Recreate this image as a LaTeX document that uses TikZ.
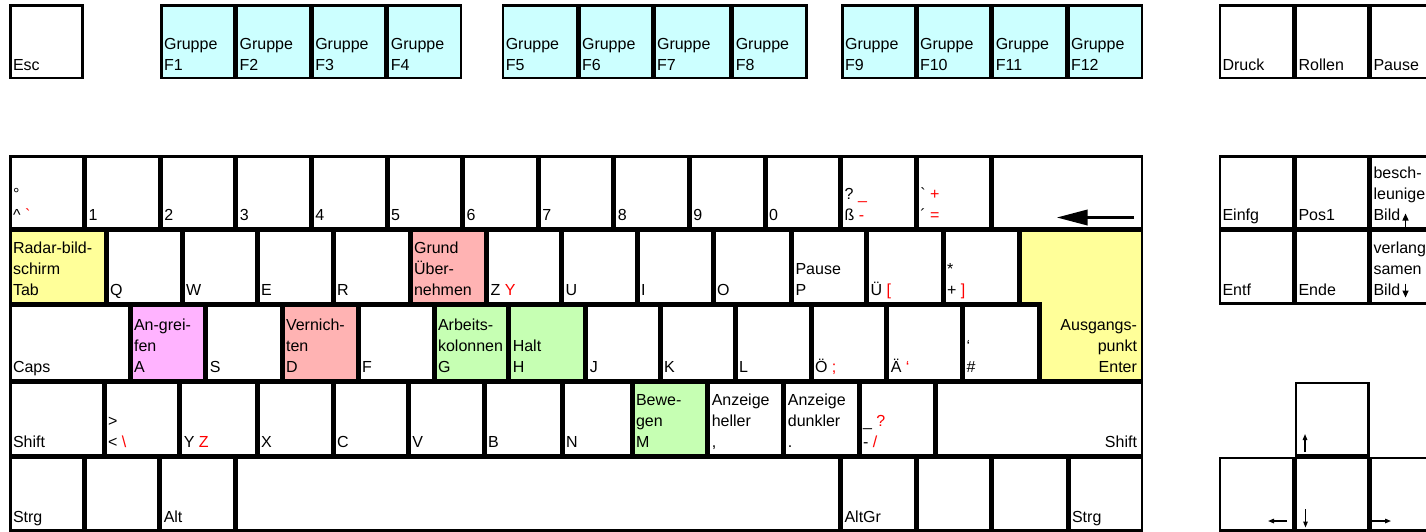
\documentclass[tikz,border=0pt]{standalone}
\usepackage{fontspec}
\setmainfont{Liberation Sans}
\usetikzlibrary{arrows.meta}
\definecolor{kcyan}{RGB}{204,255,255}
\definecolor{kyellow}{RGB}{255,255,153}
\definecolor{ksalmon}{RGB}{255,179,179}
\definecolor{kpink}{RGB}{255,179,255}
\definecolor{kgreen}{RGB}{198,255,179}
\newcommand\RD[1]{\textcolor{red}{#1}}
\newcommand\KB[6]{\node[keybox,#6,minimum width={#3pt-#2pt-2.5pt},minimum height={#5pt-#4pt-2.5pt}] (#1) at ({(#2+#3)/2},{(#4+#5)/2}) {};}
\newcommand\KL[2]{\node[lab,anchor=south west] (#1l) at ([xshift=2.8pt,yshift=1.5pt]#1.south west) {#2\strut};}
\newcommand\KR[2]{\node[lab,anchor=south east,align=right] (#1l) at ([xshift=-4.8pt,yshift=1.5pt]#1.south east) {#2\strut};}
\tikzset{
  keybox/.style={draw=black,line width=2.5pt,rectangle,inner sep=0pt,outer sep=0pt,fill=white},
  cy/.style={fill=kcyan}, ye/.style={fill=kyellow}, sa/.style={fill=ksalmon},
  pk/.style={fill=kpink}, gr/.style={fill=kgreen},
  lab/.style={inner sep=0pt,outer sep=0pt,align=left,font=\fontsize{16}{20.8}\selectfont},
  smallarrow/.style={line width=1.3pt,-{Triangle[length=6pt,width=4.5pt]}},
  bildarrow/.style={line width=1.4pt,-{Triangle[length=7pt,width=6pt]}}
}
\begin{document}
\begin{tikzpicture}[x=1pt,y=-1pt]
\useasboundingbox (0,0) rectangle (1426,531);
\clip (0,0) rectangle (1426,531);
\fill[white] (0,0) rectangle (1426,531);
% ---- top row
\KB{esc}{9}{83.5}{4}{79}{}\KL{esc}{Esc}
\KB{f1}{160}{235.6}{4}{79}{cy}\KL{f1}{Gruppe\\F1}
\KB{f2}{235.6}{311.2}{4}{79}{cy}\KL{f2}{Gruppe\\F2}
\KB{f3}{311.2}{386.8}{4}{79}{cy}\KL{f3}{Gruppe\\F3}
\KB{f4}{386.8}{462.4}{4}{79}{cy}\KL{f4}{Gruppe\\F4}
\KB{f5}{501.7}{578}{4}{79}{cy}\KL{f5}{Gruppe\\F5}
\KB{f6}{578}{653}{4}{79}{cy}\KL{f6}{Gruppe\\F6}
\KB{f7}{653}{731.7}{4}{79}{cy}\KL{f7}{Gruppe\\F7}
\KB{f8}{731.7}{807.7}{4}{79}{cy}\KL{f8}{Gruppe\\F8}
\KB{f9}{841}{916}{4}{79}{cy}\KL{f9}{Gruppe\\F9}
\KB{f10}{916}{991.7}{4}{79}{cy}\KL{f10}{Gruppe\\F10}
\KB{f11}{991.7}{1067}{4}{79}{cy}\KL{f11}{Gruppe\\F11}
\KB{f12}{1067}{1143}{4}{79}{cy}\KL{f12}{Gruppe\\F12}
\KB{druck}{1218.5}{1294.5}{4}{79}{}\KL{druck}{Druck}
\KB{rollen}{1294.5}{1369.5}{4}{79}{}\KL{rollen}{Rollen}
\KB{pause}{1369.5}{1445}{4}{79}{}\KL{pause}{Pause}
% ---- number row
\KB{circ}{9}{84.6}{155}{229.5}{}\KL{circ}{°\\\textasciicircum\ \RD{\textasciigrave}}
\KB{n1}{84.6}{160.2}{155}{229.5}{}\KL{n1}{1}
\KB{n2}{160.2}{235.8}{155}{229.5}{}\KL{n2}{2}
\KB{n3}{235.8}{311.4}{155}{229.5}{}\KL{n3}{3}
\KB{n4}{311.4}{387}{155}{229.5}{}\KL{n4}{4}
\KB{n5}{387}{462.6}{155}{229.5}{}\KL{n5}{5}
\KB{n6}{462.6}{538.2}{155}{229.5}{}\KL{n6}{6}
\KB{n7}{538.2}{613.8}{155}{229.5}{}\KL{n7}{7}
\KB{n8}{613.8}{689.4}{155}{229.5}{}\KL{n8}{8}
\KB{n9}{689.4}{765}{155}{229.5}{}\KL{n9}{9}
\KB{n0}{765}{840.6}{155}{229.5}{}\KL{n0}{0}
\KB{sz}{840.6}{916.2}{155}{229.5}{}\KL{sz}{?\ \RD{\_}\\ß \RD{-}}
\KB{acute}{916.2}{991.8}{155}{229.5}{}\KL{acute}{\textasciigrave\ \RD{+}\\´ \RD{=}}
\KB{bksp}{991.8}{1143}{155}{229.5}{}
\coordinate (bsA) at (1134,217.5);
\coordinate (bsB) at (1056.5,217.5);
\draw[line width=3.5pt,-{Triangle[length=31pt,width=15pt]}] (bsA) -- (bsB);
% ---- Q row
\KB{tab}{9}{106}{229.5}{304.5}{ye}\KL{tab}{Radar-bild-\\schirm\\Tab}
\KB{q}{106}{182}{229.5}{304.5}{}\KL{q}{Q}
\KB{w}{182}{257}{229.5}{304.5}{}\KL{w}{W}
\KB{e}{257}{333}{229.5}{304.5}{}\KL{e}{E}
\KB{r}{333}{410}{229.5}{304.5}{}\KL{r}{R}
\KB{t}{410}{486.5}{229.5}{304.5}{sa}\KL{t}{Grund\\Über-\\nehmen}
\KB{z}{486.5}{561.5}{229.5}{304.5}{}\KL{z}{Z \RD{Y}}
\KB{u}{561.5}{637}{229.5}{304.5}{}\KL{u}{U}
\KB{i}{637}{713}{229.5}{304.5}{}\KL{i}{I}
\KB{o}{713}{791.5}{229.5}{304.5}{}\KL{o}{O}
\KB{p}{791.5}{866.5}{229.5}{304.5}{}\KL{p}{Pause\\P}
\KB{ue}{866.5}{943}{229.5}{304.5}{}\KL{ue}{Ü \RD{[}}
\KB{plus}{943}{1019}{229.5}{304.5}{}\KL{plus}{*\\+ \RD{]}}
% Enter
\coordinate (enterSE) at (1141.75,379.75);
\filldraw[draw=black,line width=2.5pt,fill=kyellow] (1020.25,230.75) -- (1141.75,230.75) -- (enterSE) -- (1040.25,379.75) -- (1040.25,303.25) -- (1020.25,303.25) -- cycle;
\node[lab,anchor=south east,align=right] (enterl) at ([xshift=-4.8pt,yshift=1.5pt]enterSE) {Ausgangs-\\punkt\\Enter\strut};
% ---- A row
\KB{caps}{9}{130}{304.5}{381}{}\KL{caps}{Caps}
\KB{a}{130}{205.7}{304.5}{381}{pk}\KL{a}{An-grei-\\fen\\A}
\KB{s}{205.7}{282}{304.5}{381}{}\KL{s}{S}
\KB{d}{282}{358}{304.5}{381}{sa}\KL{d}{Vernich-\\ten\\D}
\KB{f}{358}{434}{304.5}{381}{}\KL{f}{F}
\KB{g}{434}{508.7}{304.5}{381}{gr}\KL{g}{Arbeits-\\kolonnen\\G}
\KB{h}{508.7}{585.7}{304.5}{381}{gr}\KL{h}{Halt\\H}
\KB{j}{585.7}{660}{304.5}{381}{}\KL{j}{J}
\KB{k}{660}{735}{304.5}{381}{}\KL{k}{K}
\KB{l}{735}{811}{304.5}{381}{}\KL{l}{L}
\KB{oe}{811}{886.7}{304.5}{381}{}\KL{oe}{Ö \RD{;}}
\KB{ae}{886.7}{962.5}{304.5}{381}{}\KL{ae}{Ä \RD{‘}}
\KB{hash}{962.5}{1039}{304.5}{381}{}\KL{hash}{‘\\\#}
% ---- Shift row
\KB{lshift}{9}{104}{381}{456.5}{}\KL{lshift}{Shift}
\KB{lt}{104}{179.7}{381}{456.5}{}\KL{lt}{>\\< \RD{\textbackslash}}
\KB{y}{179.7}{257}{381}{456.5}{}\KL{y}{Y \RD{Z}}
\KB{x}{257}{333}{381}{456.5}{}\KL{x}{X}
\KB{c}{333}{408.3}{381}{456.5}{}\KL{c}{C}
\KB{v}{408.3}{484}{381}{456.5}{}\KL{v}{V}
\KB{b}{484}{562}{381}{456.5}{}\KL{b}{B}
\KB{n}{562}{632}{381}{456.5}{}\KL{n}{N}
\KB{m}{632}{707.7}{381}{456.5}{gr}\KL{m}{Bewe-\\gen\\M}
\KB{comma}{707.7}{783.8}{381}{456.5}{}\KL{comma}{Anzeige\\heller\\,}
\KB{dot}{783.8}{859}{381}{456.5}{}\KL{dot}{Anzeige\\dunkler\\.}
\KB{minus}{859}{935.7}{381}{456.5}{}\KL{minus}{\_ \RD{?}\\- \RD{/}}
\KB{rshift}{935.7}{1143}{381}{456.5}{}\KR{rshift}{Shift}
% ---- Ctrl row
\KB{lctrl}{9}{84}{456.5}{531.5}{}\KL{lctrl}{Strg}
\KB{win}{84}{159.7}{456.5}{531.5}{}
\KB{alt}{159.7}{235.3}{456.5}{531.5}{}\KL{alt}{Alt}
\KB{space}{235.3}{840.5}{456.5}{531.5}{}
\KB{altgr}{840.5}{916.8}{456.5}{531.5}{}\KL{altgr}{AltGr}
\KB{rwin}{916.8}{991.3}{456.5}{531.5}{}
\KB{menu}{991.3}{1068}{456.5}{531.5}{}
\KB{rctrl}{1068}{1143}{456.5}{531.5}{}\KL{rctrl}{Strg}
% ---- right cluster
\KB{einfg}{1218.5}{1294.5}{155}{229.5}{}\KL{einfg}{Einfg}
\KB{pos}{1294.5}{1369.5}{155}{229.5}{}\KL{pos}{Pos1}
\KB{pgup}{1369.5}{1445}{155}{229.5}{}\KL{pgup}{besch-\\leunige\\Bild}
\KB{entf}{1218.5}{1294.5}{229.5}{304.5}{}\KL{entf}{Entf}
\KB{ende}{1294.5}{1369.5}{229.5}{304.5}{}\KL{ende}{Ende}
\KB{pgdn}{1369.5}{1445}{229.5}{304.5}{}\KL{pgdn}{verlang\\samen\\Bild}
\coordinate (puA) at (1405.5,227); \coordinate (puB) at (1405.5,213.5);
\draw[bildarrow] (puA) -- (puB);
\coordinate (pdA) at (1405.5,283.5); \coordinate (pdB) at (1405.5,297.5);
\draw[bildarrow] (pdA) -- (pdB);
% ---- arrow keys
\KB{up}{1294.5}{1369.5}{381.5}{456.5}{}
\KB{left}{1218.5}{1294.5}{456.5}{531.5}{}
\KB{down}{1294.5}{1369.5}{456.5}{531.5}{}
\KB{right}{1369.5}{1445}{456.5}{531.5}{}
\coordinate (uA) at (1305,452); \coordinate (uB) at (1305,434);
\draw[smallarrow] (uA) -- (uB);
\coordinate (dA) at (1305.5,509); \coordinate (dB) at (1305.5,527.5);
\draw[smallarrow] (dA) -- (dB);
\coordinate (lA) at (1287,521); \coordinate (lB) at (1268,521);
\draw[smallarrow] (lA) -- (lB);
\coordinate (rA) at (1372,521); \coordinate (rB) at (1391,521);
\draw[smallarrow] (rA) -- (rB);
\end{tikzpicture}
\end{document}
